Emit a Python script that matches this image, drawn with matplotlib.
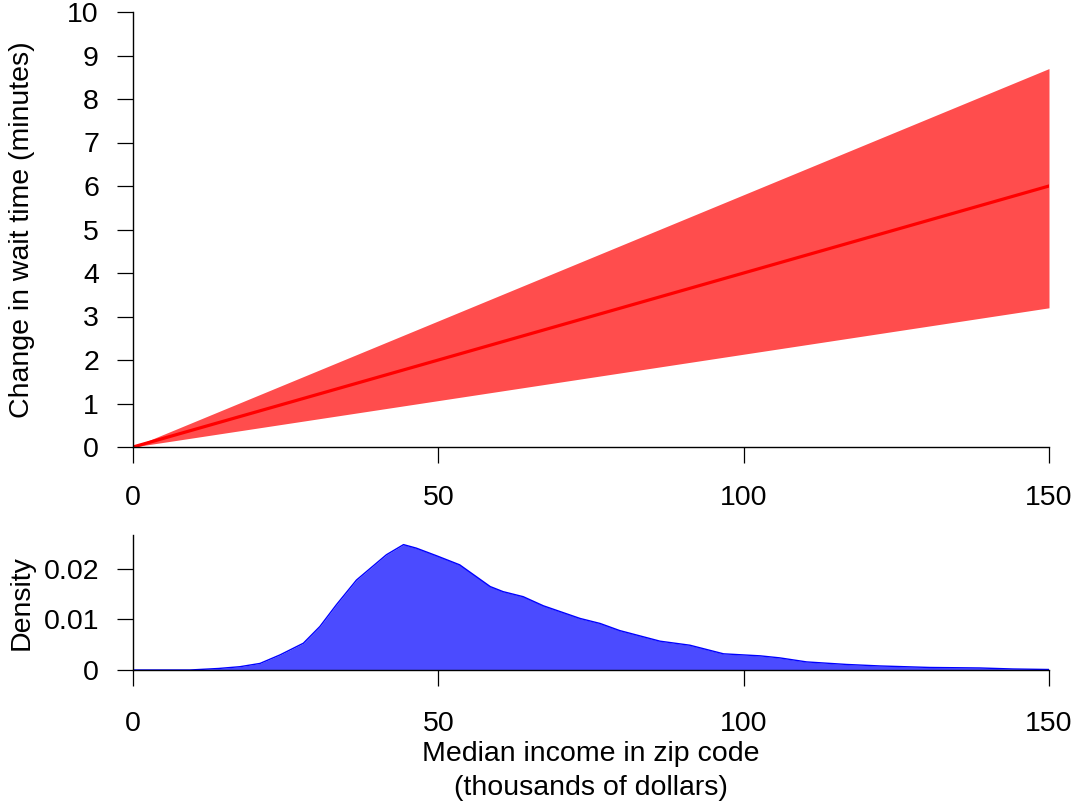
import numpy as np
import matplotlib
matplotlib.use("Agg")
import matplotlib.pyplot as plt

plt.rcParams['font.family'] = ['Liberation Sans', 'DejaVu Sans']

# estimated effect of income on wait time, with confidence band
income_grid = [0, 150]
wait_fit = [0, 6.0]
wait_lower = [0, 3.2]
wait_upper = [0, 8.7]

# density of median income across zip codes (thousands of dollars)
dens_income = [0, 5, 9.3, 14, 17.5, 20.8, 24.1, 27.9, 30.6, 33.3, 36.6, 41.5,
               44.3, 46.4, 49.7, 53.5, 58.5, 60.6, 63.9, 67.2, 73.2, 76.5,
               79.7, 86.3, 91.2, 96.7, 102.7, 105.9, 110.3, 116.8, 122.3,
               130.5, 138.7, 144.1, 150]
dens_value = [0, 0, 0, 0.0003, 0.00065, 0.0013, 0.003, 0.0053, 0.0086, 0.0129,
              0.0178, 0.0228, 0.0248, 0.0241, 0.0226, 0.0208, 0.0165, 0.0155,
              0.0145, 0.0127, 0.0102, 0.0092, 0.0078, 0.0057, 0.0049, 0.0032,
              0.0028, 0.0024, 0.0016, 0.0011, 0.0008, 0.0005, 0.0004, 0.0002,
              0.0001]

FS = 20.5
W, H = 1075, 807
fig = plt.figure(figsize=(W / 100, H / 100), dpi=100)

def px_axes(left, top, right, bottom):
    return fig.add_axes([left / W, 1 - bottom / H, (right - left) / W, (bottom - top) / H])

def style(ax, xpad):
    for s in ['top', 'right']:
        ax.spines[s].set_visible(False)
    for s in ['left', 'bottom']:
        ax.spines[s].set_linewidth(1.0)
        ax.spines[s].set_color('black')
    ax.tick_params(axis='both', direction='out', length=11.5, width=0.9,
                   labelsize=FS, colors='black')
    ax.tick_params(axis='y', pad=13)
    ax.tick_params(axis='x', pad=xpad)

# top panel: fitted change in wait time
ax1 = px_axes(133, 12, 1049, 447)
ax1.fill_between(income_grid, wait_lower, wait_upper, color='#ff4d4d', lw=0)
ax1.plot(income_grid, wait_fit, color='#ff0000', lw=2.3)
ax1.set_xlim(0, 150)
ax1.set_ylim(0, 10)
ax1.set_xticks([0, 50, 100, 150])
ax1.set_yticks(range(0, 11))
style(ax1, 16)
fig.text(22 / W, 1 - 230 / H, 'Change in wait time (minutes)', rotation=90,
         ha='center', va='center', fontsize=FS)

# bottom panel: income density
ax2 = px_axes(133, 535, 1049, 670)
ax2.fill_between(dens_income, 0, dens_value, color='#4b4bff', lw=0)
ax2.plot(dens_income, dens_value, color='#0000ff', lw=1.0)
ax2.set_xlim(0, 150)
ax2.set_ylim(0, 0.0267)
ax2.set_xticks([0, 50, 100, 150])
ax2.set_yticks([0, 0.01, 0.02])
ax2.set_yticklabels(['0', '0.01', '0.02'])
style(ax2, 18)
fig.text(22 / W, 1 - 603 / H, 'Density', rotation=90,
         ha='center', va='center', fontsize=FS)
fig.text(591 / W, 1 - 754 / H, 'Median income in zip code',
         ha='center', va='center', fontsize=FS)
fig.text(591 / W, 1 - 788 / H, '(thousands of dollars)',
         ha='center', va='center', fontsize=FS)

fig.savefig('out.png', dpi=100)
